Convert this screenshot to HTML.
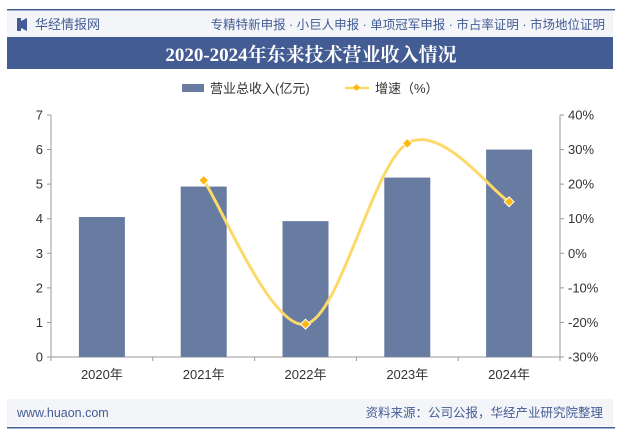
<!DOCTYPE html>
<html><head><meta charset="utf-8"><style>
body{margin:0;width:623px;height:437px;background:#fff;font-family:"Liberation Sans","Noto Sans CJK SC",sans-serif;overflow:hidden}
svg text{font-family:"Liberation Sans","Noto Sans CJK SC",sans-serif}
</style></head><body>
<svg width="623" height="437">
<rect x="7" y="9" width="608" height="1.5" fill="#445c94"/>
<rect x="7" y="11" width="606" height="26" fill="#f3f5f9"/>
<rect x="17" y="18" width="4" height="13" fill="#445c94"/><path d="M21 21 L27 18 V31 L21 28Z" fill="#445c94"/>
<text x="35" y="29" font-size="13" fill="#445c94">华经情报网</text>
<text x="605" y="29" font-size="12.5" fill="#445c94" text-anchor="end">专精特新申报 · 小巨人申报 · 单项冠军申报 · 市占率证明 · 市场地位证明</text>
<rect x="7" y="37" width="606" height="32" fill="#445c94"/>
<text x="311" y="61" font-size="19" font-weight="bold" fill="#fff" text-anchor="middle" style="font-family:'Liberation Serif','Noto Serif CJK SC',serif">2020-2024年东来技术营业收入情况</text>
<rect x="182" y="84" width="22" height="8" fill="#687ba0"/>
<text x="210" y="93" font-size="13" fill="#333">营业总收入(亿元)</text>
<line x1="345" y1="88" x2="369" y2="88" stroke="#fdd96a" stroke-width="2.5"/><rect x="354" y="85" width="5" height="5" fill="#fdb813" transform="rotate(45 356.5 87.5)"/>
<text x="375" y="93" font-size="13" fill="#333">增速（%）</text>
<g id="plot"></g>
<rect x="7" y="399" width="606" height="27" fill="#f3f5f9"/>
<text x="17" y="417" font-size="12.5" fill="#445c94">www.huaon.com</text>
<text x="603" y="417" font-size="12.5" fill="#445c94" text-anchor="end">资料来源：公司公报，华经产业研究院整理</text>
<rect x="7" y="427" width="608" height="1.5" fill="#445c94"/>
</svg>
<script>
const categories=["2020年","2021年","2022年","2023年","2024年"];
const revenue=[4.05,4.93,3.93,5.19,6.0];
const growth=[null,21.1,-20.5,31.8,14.9];
const leftTicks=[0,1,2,3,4,5,6,7];
const rightTicks=[-30,-20,-10,0,10,20,30,40];
const NS="http://www.w3.org/2000/svg";
const g=document.getElementById('plot');
const X0=51,X1=560,Y0=357,Y1=115;
const bw=(X1-X0)/categories.length;
const xc=i=>X0+bw*(i+0.5);
const yL=v=>Y0-(v/7)*(Y0-Y1);
const yR=v=>Y0-((v+30)/70)*(Y0-Y1);
function mk(t,a){const e=document.createElementNS(NS,t);for(const k in a)e.setAttribute(k,a[k]);g.appendChild(e);return e;}
let e=mk('line',{x1:X0,y1:Y1,x2:X0,y2:Y0,stroke:'#999'});


e=mk('line',{x1:X1,y1:Y1,x2:X1,y2:Y0,stroke:'#999'});


e=mk('line',{x1:X0,y1:Y0,x2:X1,y2:Y0,stroke:'#999'});


leftTicks.forEach(v=>{mk('line',{x1:X0-4,x2:X0,y1:yL(v),y2:yL(v),stroke:'#999'});
 const t=mk('text',{x:X0-8,y:yL(v)+4.5,'font-size':13,'text-anchor':'end',fill:'#333'});t.textContent=v;
 
 });
rightTicks.forEach(v=>{mk('line',{x1:X1,x2:X1+4,y1:yR(v),y2:yR(v),stroke:'#999'});
 const t=mk('text',{x:X1+8,y:yR(v)+4.5,'font-size':13,fill:'#333'});t.textContent=v+'%';
 
 });
for(let i=0;i<=categories.length;i++)mk('line',{x1:X0+bw*i,x2:X0+bw*i,y1:Y0,y2:Y0+4,stroke:'#999'});
categories.forEach((c,i)=>{
 const r=mk('rect',{x:xc(i)-23,y:yL(revenue[i]),width:46,height:Y0-yL(revenue[i]),fill:'#687ba0'});
 
 
 const t=mk('text',{x:xc(i),y:Y0+22,'font-size':13,'text-anchor':'middle',fill:'#333'});t.textContent=c;
 
 
});
const pts=[];growth.forEach((v,i)=>{if(v!==null)pts.push([xc(i),yR(v)]);});
let d='M'+pts[0][0]+' '+pts[0][1];
for(let i=0;i<pts.length-1;i++){const p0=pts[Math.max(i-1,0)],p1=pts[i],p2=pts[i+1],p3=pts[Math.min(i+2,pts.length-1)];
 const c1=[p1[0]+(p2[0]-p0[0])/6,p1[1]+(p2[1]-p0[1])/6],c2=[p2[0]-(p3[0]-p1[0])/6,p2[1]-(p3[1]-p1[1])/6];
 d+=` C${c1[0]} ${c1[1]} ${c2[0]} ${c2[1]} ${p2[0]} ${p2[1]}`;}
e=mk('path',{d:d,fill:'none',stroke:'#fdd96a','stroke-width':3});


pts.forEach(p=>{const m=mk('rect',{x:p[0]-3.5,y:p[1]-3.5,width:7,height:7,fill:'#fdb813',stroke:'#fff','stroke-width':1,transform:`rotate(45 ${p[0]} ${p[1]})`});
 
 });
</script>
</body></html>
